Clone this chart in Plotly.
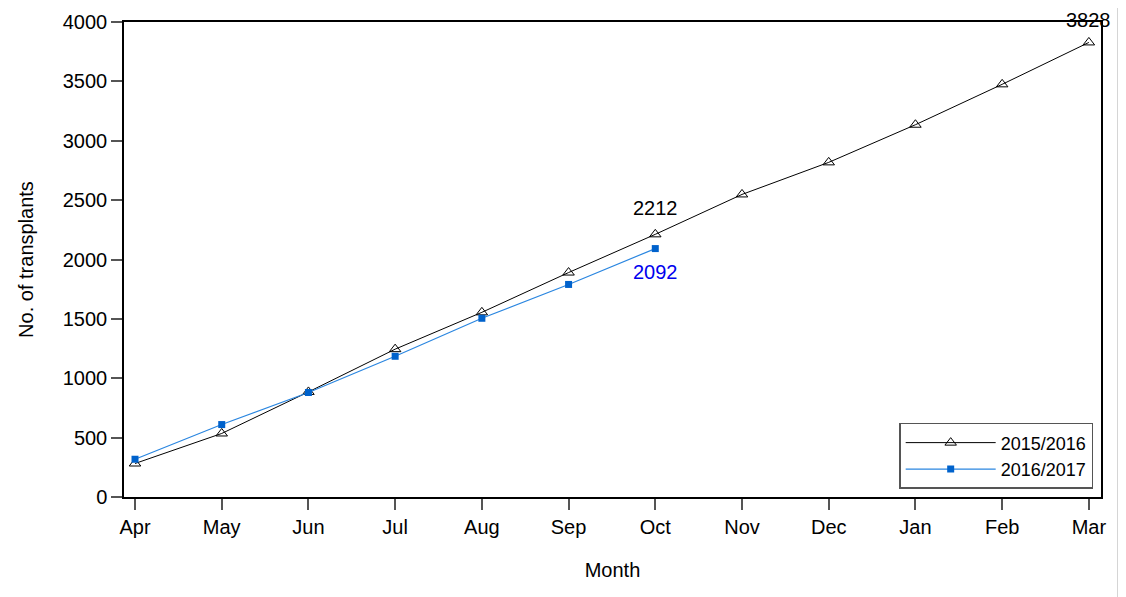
import plotly.graph_objects as go

months = ["Apr", "May", "Jun", "Jul", "Aug", "Sep", "Oct", "Nov", "Dec", "Jan", "Feb", "Mar"]
s1_name = "2015/2016"
s1_vals = [282, 535, 885, 1245, 1555, 1890, 2212, 2548, 2818, 3135, 3475, 3828]
s2_name = "2016/2017"
s2_vals = [318, 610, 880, 1185, 1505, 1790, 2092]
y_ticks = [0, 500, 1000, 1500, 2000, 2500, 3000, 3500, 4000]

FONT = "Liberation Sans, Arial, sans-serif"
xi1 = list(range(len(s1_vals)))
xi2 = list(range(len(s2_vals)))

fig = go.Figure()
fig.add_trace(go.Scatter(
    x=xi1, y=s1_vals, name=s1_name, mode="lines+markers",
    line=dict(color="#000000", width=1),
    marker=dict(symbol="triangle-up-open", size=10, color="#000000", line=dict(width=1)),
))
fig.add_trace(go.Scatter(
    x=xi2, y=s2_vals, name=s2_name, mode="lines+markers",
    line=dict(color="#2a86e0", width=1.2),
    marker=dict(symbol="square", size=7, color="#0062cc"),
))

fig.add_annotation(x=xi1[6], y=s1_vals[6], text=str(s1_vals[6]), showarrow=False,
                   yshift=26, font=dict(size=20, color="#000000", family=FONT))
fig.add_annotation(x=xi2[6], y=s2_vals[6], text=str(s2_vals[6]), showarrow=False,
                   yshift=-23, font=dict(size=20, color="#0000ee", family=FONT))
fig.add_annotation(x=xi1[-1], y=s1_vals[-1], text=str(s1_vals[-1]), showarrow=False,
                   yshift=22, font=dict(size=20, color="#000000", family=FONT))

# frame line at the right edge of the image
fig.add_shape(type="line", xref="paper", yref="paper", x0=1.018, x1=1.018,
              y0=-0.22, y1=1.03, layer="above", line=dict(color="#000000", width=1.5))

fig.update_layout(
    width=1126, height=597,
    margin=dict(l=116, r=33, t=14, b=108),
    paper_bgcolor="white", plot_bgcolor="white",
    font=dict(family=FONT, size=20, color="#000000"),
    showlegend=True,
    legend=dict(x=0.992, y=0.017, xanchor="right", yanchor="bottom",
                bordercolor="#555555", borderwidth=1.5, bgcolor="white",
                font=dict(size=18, family=FONT), itemwidth=90,
                tracegroupgap=4),
)
fig.update_xaxes(
    range=[-0.127, 11.14], tickmode="array", tickvals=list(range(len(months))), ticktext=months,
    showgrid=False, zeroline=False, showline=True, linecolor="#000000", linewidth=1.5,
    mirror=True, ticks="outside", ticklen=11, tickcolor="#555555", tickwidth=1.5, automargin=False,
    tickfont=dict(size=20, family=FONT), title=dict(text="Month", font=dict(size=20, family=FONT), standoff=26),
)
fig.update_yaxes(
    range=[0, 4000], tickmode="array", tickvals=y_ticks,
    showgrid=False, zeroline=False, showline=True, linecolor="#000000", linewidth=1.5,
    mirror=True, ticks="outside", ticklen=11, tickcolor="#555555", tickwidth=1.5, automargin=False,
    tickfont=dict(size=20, family=FONT), title=dict(text="No. of transplants", font=dict(size=20, family=FONT), standoff=24),
)

fig.write_html("out.html")
